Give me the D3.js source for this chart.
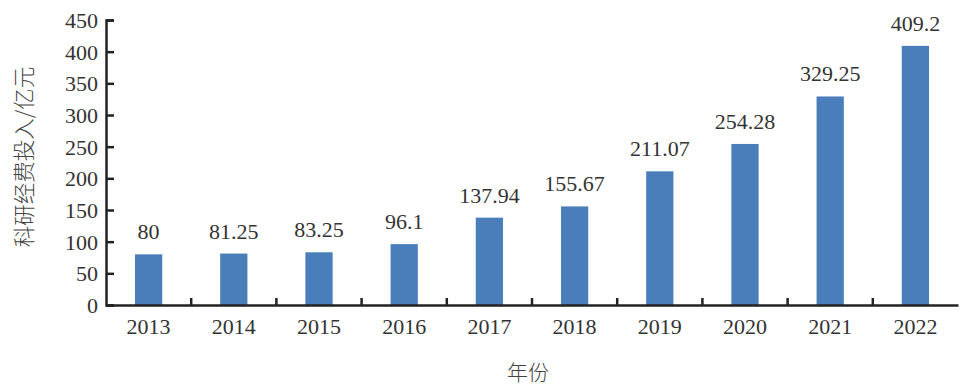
<!DOCTYPE html>
<html><head><meta charset="utf-8">
<script src="https://cdn.jsdelivr.net/npm/d3@7"></script>
<style>body{margin:0;background:#fff}</style>
</head><body>
<script>
const years = ["2013","2014","2015","2016","2017","2018","2019","2020","2021","2022"];
const values = [80,81.25,83.25,96.1,137.94,155.67,211.07,254.28,329.25,409.2];
const labels = ["80","81.25","83.25","96.1","137.94","155.67","211.07","254.28","329.25","409.2"];
const yTicks = [0,50,100,150,200,250,300,350,400,450];

const W=966,H=387;
const svg=d3.select("body").append("svg").attr("width",W).attr("height",H);
const x=d3.scaleBand().domain(years).range([106,958]).paddingInner(0.68).paddingOuter(0.34);
const y=d3.scaleLinear().domain([0,450]).range([305,20]);
const serif="'Liberation Serif','DejaVu Serif',serif";
const textColor="#333";

svg.selectAll("rect.bar").data(values).enter().append("rect")
 .attr("x",(d,i)=>x(years[i])).attr("width",x.bandwidth())
 .attr("y",d=>y(d)).attr("height",d=>y(0)-y(d)).attr("fill","#4a7ebb");

svg.selectAll("text.val").data(values).enter().append("text")
 .attr("x",(d,i)=>x(years[i])+x.bandwidth()/2).attr("y",d=>y(d)-15)
 .attr("text-anchor","middle").attr("font-family",serif).attr("font-size",22)
 .attr("fill",textColor).text((d,i)=>labels[i]);

// y axis
const ya=svg.append("g").attr("transform","translate(106,0)")
 .call(d3.axisLeft(y).tickValues(yTicks).tickSize(-8).tickPadding(8));
ya.select(".domain").attr("stroke","#222").attr("stroke-width",2.5);
ya.selectAll(".tick line").attr("stroke","#222").attr("stroke-width",2.5);
ya.selectAll(".tick text").attr("font-family",serif).attr("font-size",22).attr("fill",textColor).attr("x",-8).attr("dy","0.34em");

// x axis
const xa=svg.append("g").attr("transform","translate(0,305)")
 .call(d3.axisBottom(x).tickSize(0).tickPadding(13));
xa.select(".domain").attr("stroke","#222").attr("stroke-width",2.5);
xa.selectAll(".tick text").attr("font-family",serif).attr("font-size",22).attr("fill",textColor);
// boundary ticks pointing up
const step=x.step();
const bounds=years.slice(1).map(yv=>x(yv)-x.paddingInner()*step/2);
svg.selectAll("line.bt").data(bounds).enter().append("line")
 .attr("x1",d=>d).attr("x2",d=>d).attr("y1",305).attr("y2",298)
 .attr("stroke","#222").attr("stroke-width",2.5);

svg.append("text").attr("transform","translate(32,157) rotate(-90)")
 .attr("text-anchor","middle").attr("font-family","'Noto Sans CJK SC',sans-serif")
 .attr("font-size",21.5).attr("font-weight",300).attr("fill","#444").text("科研经费投入/亿元");
svg.append("text").attr("x",528).attr("y",380)
 .attr("text-anchor","middle").attr("font-family","'Noto Sans CJK SC',sans-serif")
 .attr("font-size",21).attr("font-weight",300).attr("fill","#444").text("年份");
</script>
</body></html>
